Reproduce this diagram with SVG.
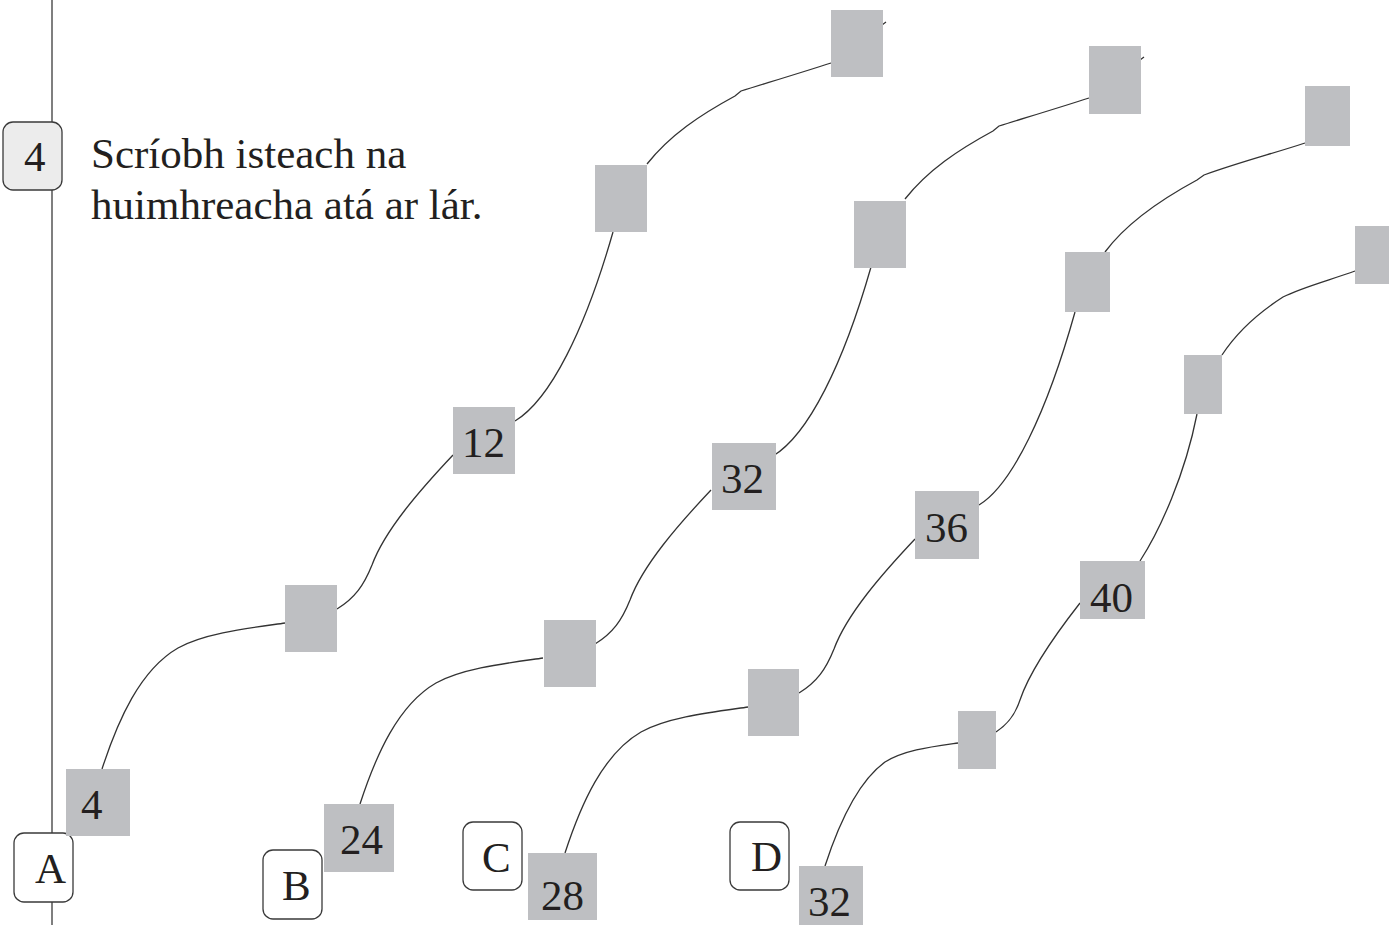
<svg xmlns="http://www.w3.org/2000/svg" width="1389" height="925" viewBox="0 0 1389 925">
<style>
.sq{fill:#bebfc2}
.lb{fill:#ffffff;stroke:#3a3a3a;stroke-width:1.3}
.lb0{fill:#ececec;stroke:#3a3a3a;stroke-width:1.3}
.c{fill:none;stroke:#333333;stroke-width:1.3}
.ax{stroke:#555555;stroke-width:1.5}
text{font-family:"Liberation Serif","Times New Roman",serif;font-size:43px;fill:#231f20}
</style>
<rect width="1389" height="925" fill="#ffffff"/>
<line class="ax" x1="52" y1="0" x2="52" y2="925"/>
<g id="connectors">
<g id="chainA-lines">
<path class="c" d="M102,769 C118,720 140,670 178,648 C205,633 250,628 285,623"/>
<path class="c" d="M337,609 C355,598 364,585 372,565 C385,530 420,490 453,455"/>
<path class="c" d="M515,421 C550,400 585,330 613,232"/>
<path class="c" d="M647,164 C670,135 700,115 735,96 L741,91 C770,82 800,73 831,63 L886,22"/>
</g>
<g id="chainB-lines" transform="translate(258,35)">
<path class="c" d="M102,769 C118,720 140,670 178,648 C205,633 250,628 285,623"/>
<path class="c" d="M337,609 C355,598 364,585 372,565 C385,530 420,490 453,455"/>
<path class="c" d="M515,421 C550,400 585,330 613,232"/>
<path class="c" d="M647,164 C670,135 700,115 735,96 L741,91 C770,82 800,73 831,63 L886,22"/>
</g>
<g id="chainC-lines">
<path class="c" d="M565,853 C581,804 603,754 641,732 C668,717 713,712 748,707"/>
<path class="c" d="M799,693 C817,682 826,669 834,649 C847,614 882,574 915,539"/>
<path class="c" d="M979,505 C1012,485 1047,412 1075,312"/>
<path class="c" d="M1105,252 C1125,225 1160,200 1197,180 L1204,175 C1240,162 1275,153 1305,143"/>
</g>
<g id="chainD-lines">
<path class="c" d="M825,866 C840,820 860,780 885,762 C905,750 930,747 958,743"/>
<path class="c" d="M996,732 C1008,724 1015,715 1020,700 C1030,670 1055,635 1080,603"/>
<path class="c" d="M1140,561 C1160,530 1185,475 1197,414"/>
<path class="c" d="M1222,355 C1235,335 1255,315 1283,297 C1300,288 1330,280 1355,271"/>
</g>
</g>
<g id="title">
<text x="91" y="168">Scríobh isteach na</text>
<text x="91" y="219">huimhreacha atá ar lár.</text>
</g>
<g id="label-4"><rect class="lb0" x="3" y="122" width="59" height="68" rx="10"/><text x="24" y="171" font-size="42">4</text></g>
<g id="label-A"><rect class="lb" x="14" y="833" width="59" height="69" rx="10"/><text x="35" y="883">A</text></g>
<g id="label-B"><rect class="lb" x="263" y="850" width="59" height="69" rx="10"/><text x="282" y="900">B</text></g>
<g id="label-C"><rect class="lb" x="463" y="822" width="59" height="68" rx="10"/><text x="482" y="872">C</text></g>
<g id="label-D"><rect class="lb" x="730" y="822" width="59" height="68" rx="10"/><text x="751" y="871">D</text></g>
<g id="A1"><rect class="sq" x="66" y="769" width="64" height="67"/><text x="81" y="819">4</text></g>
<g id="A2"><rect class="sq" x="285" y="585" width="52" height="67"/></g>
<g id="A3"><rect class="sq" x="453" y="407" width="62" height="67"/><text x="462" y="457">12</text></g>
<g id="A4"><rect class="sq" x="595" y="165" width="52" height="67"/></g>
<g id="A5"><rect class="sq" x="831" y="10" width="52" height="67"/></g>
<g id="B1"><rect class="sq" x="324" y="804" width="70" height="68"/><text x="340" y="854">24</text></g>
<g id="B2"><rect class="sq" x="544" y="620" width="52" height="67"/></g>
<g id="B3"><rect class="sq" x="712" y="443" width="64" height="67"/><text x="721" y="493">32</text></g>
<g id="B4"><rect class="sq" x="854" y="201" width="52" height="67"/></g>
<g id="B5"><rect class="sq" x="1089" y="46" width="52" height="68"/></g>
<g id="C1"><rect class="sq" x="528" y="853" width="69" height="67"/><text x="541" y="910">28</text></g>
<g id="C2"><rect class="sq" x="748" y="669" width="51" height="67"/></g>
<g id="C3"><rect class="sq" x="915" y="491" width="64" height="68"/><text x="925" y="542">36</text></g>
<g id="C4"><rect class="sq" x="1065" y="252" width="45" height="60"/></g>
<g id="C5"><rect class="sq" x="1305" y="86" width="45" height="60"/></g>
<g id="D1"><rect class="sq" x="799" y="866" width="64" height="59"/><text x="808" y="916">32</text></g>
<g id="D2"><rect class="sq" x="958" y="711" width="38" height="58"/></g>
<g id="D3"><rect class="sq" x="1080" y="561" width="65" height="58"/><text x="1090" y="612">40</text></g>
<g id="D4"><rect class="sq" x="1184" y="355" width="38" height="59"/></g>
<g id="D5"><rect class="sq" x="1355" y="226" width="34" height="58"/></g>
</svg>
